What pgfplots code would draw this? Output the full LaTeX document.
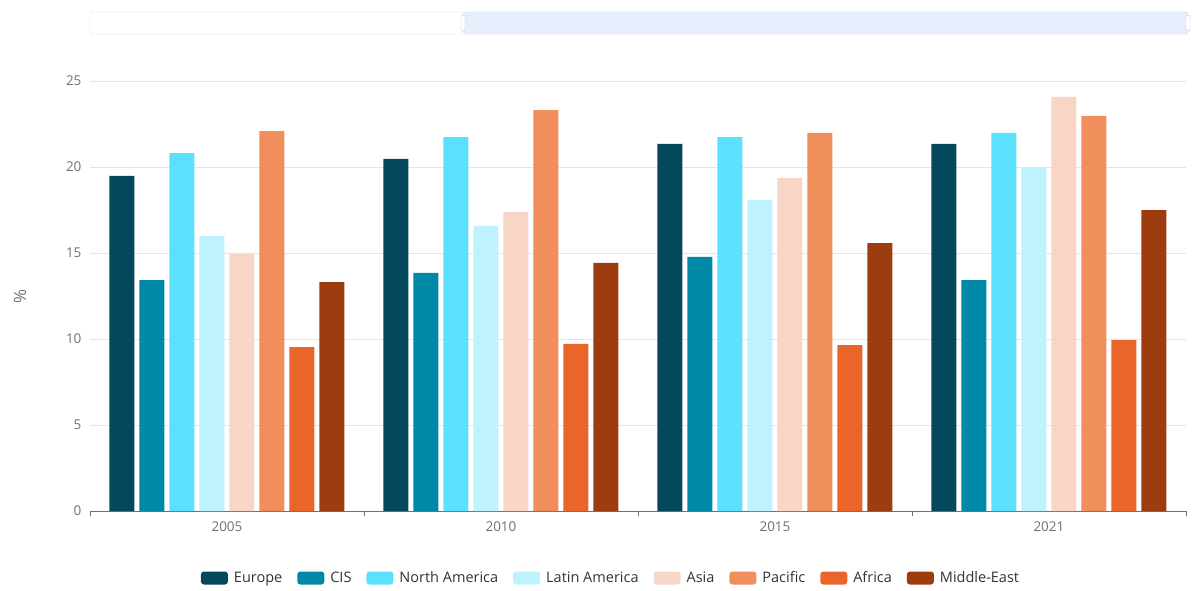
\documentclass[border=0pt]{standalone}
\usepackage{pgfplots}
\pgfplotsset{compat=1.18}
\usepackage{fontspec}
\setmainfont{Open Sans}
\definecolor{cEurope}{HTML}{03495B}
\definecolor{cCIS}{HTML}{0089A7}
\definecolor{cNA}{HTML}{5BE1FE}
\definecolor{cLA}{HTML}{BEF2FE}
\definecolor{cAsia}{HTML}{F8D6C5}
\definecolor{cPacific}{HTML}{F08E5C}
\definecolor{cAfrica}{HTML}{EA6529}
\definecolor{cME}{HTML}{9D3C0F}
\definecolor{tickgray}{HTML}{6E7079}
\definecolor{gridgray}{HTML}{E0E6F1}
\definecolor{legtext}{HTML}{333333}
\definecolor{slideborder}{HTML}{D2DBEE}
\definecolor{slidefill}{HTML}{E7EEFD}
\begin{document}
\begin{tikzpicture}
\useasboundingbox (-90pt,-79pt) rectangle (1102pt,511pt);
% data zoom slider (decoration)
\fill[slidefill] (373pt,477pt) rectangle (1098pt,499pt);
\draw[slideborder, rounded corners=2pt] (0pt,477pt) rectangle (1098pt,499pt);
\draw[slideborder!80!gray, fill=white, rounded corners=1.5pt] (371pt,480pt) rectangle (375pt,496pt);
\draw[slideborder!80!gray, fill=white, rounded corners=1.5pt] (1096pt,480pt) rectangle (1100pt,496pt);
\begin{axis}[
  scale only axis,
  width=1096pt, height=430pt,
  xmin=-0.5, xmax=3.5,
  ymin=0, ymax=25,
  ytick={0,5,10,15,20,25},
  ybar=5pt, bar width=25pt,
  legend image code/.code={\fill[#1,rounded corners=3pt] (0pt,-6.5pt) rectangle (27pt,6.5pt);},
  separate axis lines,
  axis x line*=bottom,
  axis y line*=left,
  x axis line style={draw=tickgray, -},
  y axis line style={draw=none},
  xtick={0,1,2,3},
  xticklabels={2005,2010,2015,2021},
  xtick style={draw=none},
  ytick style={draw=none},
  extra x ticks={-0.5,0.5,1.5,2.5,3.5},
  extra x tick labels={},
  extra x tick style={xtick style={draw=tickgray}, major tick length=5pt, tick align=outside},
  ymajorgrids,
  grid style={draw=gridgray, line width=0.8pt},
  /pgf/number format/assume math mode=true,
  ticklabel style={font=\fontsize{13.5}{15}\selectfont, text=tickgray},
  yticklabel style={xshift=-5pt},
  xticklabel style={yshift=-3pt},
  ylabel={\%},
  every axis y label/.style={at={(axis description cs:-0.0639,0.5)}, rotate=90, anchor=center, font=\fontsize{17}{19}\selectfont, text=tickgray},
  legend columns=8,
  legend style={at={(axis description cs:0.4754,0)}, yshift=-67pt, anchor=center, draw=none, fill=none,
    font=\fontsize{14.5}{16}\selectfont, text=legtext,
    /tikz/every even column/.append style={column sep=13pt},
    /tikz/every odd column/.append style={column sep=4pt}},
]
\addplot[fill=cEurope, draw=none] coordinates {(0,19.48) (1,20.47) (2,21.34) (3,21.34)};
\addlegendentry{Europe}
\addplot[fill=cCIS, draw=none] coordinates {(0,13.43) (1,13.84) (2,14.77) (3,13.43)};
\addlegendentry{CIS}
\addplot[fill=cNA, draw=none] coordinates {(0,20.81) (1,21.74) (2,21.74) (3,21.98)};
\addlegendentry{North America}
\addplot[fill=cLA, draw=none] coordinates {(0,15.99) (1,16.57) (2,18.08) (3,20.0)};
\addlegendentry{Latin America}
\addplot[fill=cAsia, draw=none] coordinates {(0,14.94) (1,17.38) (2,19.36) (3,24.07)};
\addlegendentry{Asia}
\addplot[fill=cPacific, draw=none] coordinates {(0,22.09) (1,23.31) (2,21.98) (3,22.97)};
\addlegendentry{Pacific}
\addplot[fill=cAfrica, draw=none] coordinates {(0,9.53) (1,9.71) (2,9.65) (3,9.94)};
\addlegendentry{Africa}
\addplot[fill=cME, draw=none] coordinates {(0,13.31) (1,14.42) (2,15.58) (3,17.50)};
\addlegendentry{Middle-East}
\end{axis}
\end{tikzpicture}
\end{document}
